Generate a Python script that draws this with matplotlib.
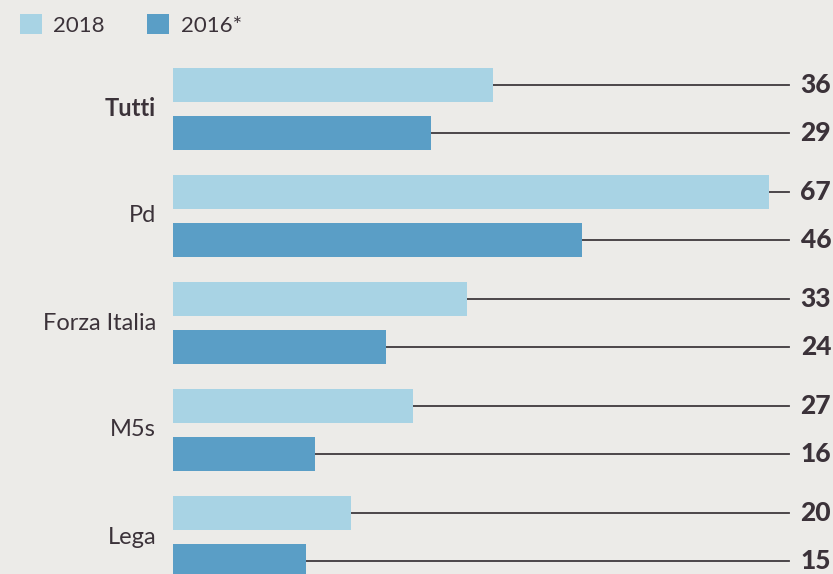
import numpy as np
import matplotlib
matplotlib.use("Agg")
import matplotlib.pyplot as plt

# data
parties = ["Tutti", "Pd", "Forza Italia", "M5s", "Lega"]
vals_2018 = [36, 67, 33, 27, 20]
vals_2016 = [29, 46, 24, 16, 15]
series_names = ["2018", "2016*"]

c_light = "#a8d3e4"
c_dark = "#5a9ec6"
c_text = "#3b3239"
c_bg = "#ecebe8"

fig = plt.figure(figsize=(8.33, 5.74), dpi=100, facecolor=c_bg)
ax = fig.add_axes([173 / 833, 0, 660 / 833, 1])
ax.set_facecolor(c_bg)

y = np.arange(len(parties))
off = 0.224
h = 0.32
line_end = 69.3
label_x = 74.0

b1 = ax.barh(y - off, vals_2018, height=h, color=c_light, label=series_names[0], zorder=2)
b2 = ax.barh(y + off, vals_2016, height=h, color=c_dark, label=series_names[1], zorder=2)

for yy, vals in [(y - off, vals_2018), (y + off, vals_2016)]:
    for yi, v in zip(yy, vals):
        ax.plot([v, line_end], [yi, yi], color="#3f393d", lw=1.3, zorder=1)
        ax.text(label_x, yi, str(v), ha="right", va="center", fontsize=19,
                fontweight="black", color=c_text, family="Lato")

ax.set_xlim(0, 74.2)
ax.set_ylim(4.346, -1.019)
ax.axis("off")

for i, name in enumerate(parties):
    fig.text(156 / 833, 1 - (109 + 107 * i) / 574, name, ha="right", va="center",
             fontsize=17, color=c_text, family="Lato",
             fontweight="bold" if i == 0 else "normal")

leg = fig.legend(handles=[b1, b2], labels=series_names, loc="upper left",
                 bbox_to_anchor=(0.0, 1.01), ncol=2, frameon=False,
                 handlelength=1.0, handleheight=1.0, handletextpad=0.5,
                 columnspacing=1.9, prop={"family": "Lato", "size": 16})
for t in leg.get_texts():
    t.set_color(c_text)

fig.savefig("out.png", dpi=100, facecolor=c_bg)
